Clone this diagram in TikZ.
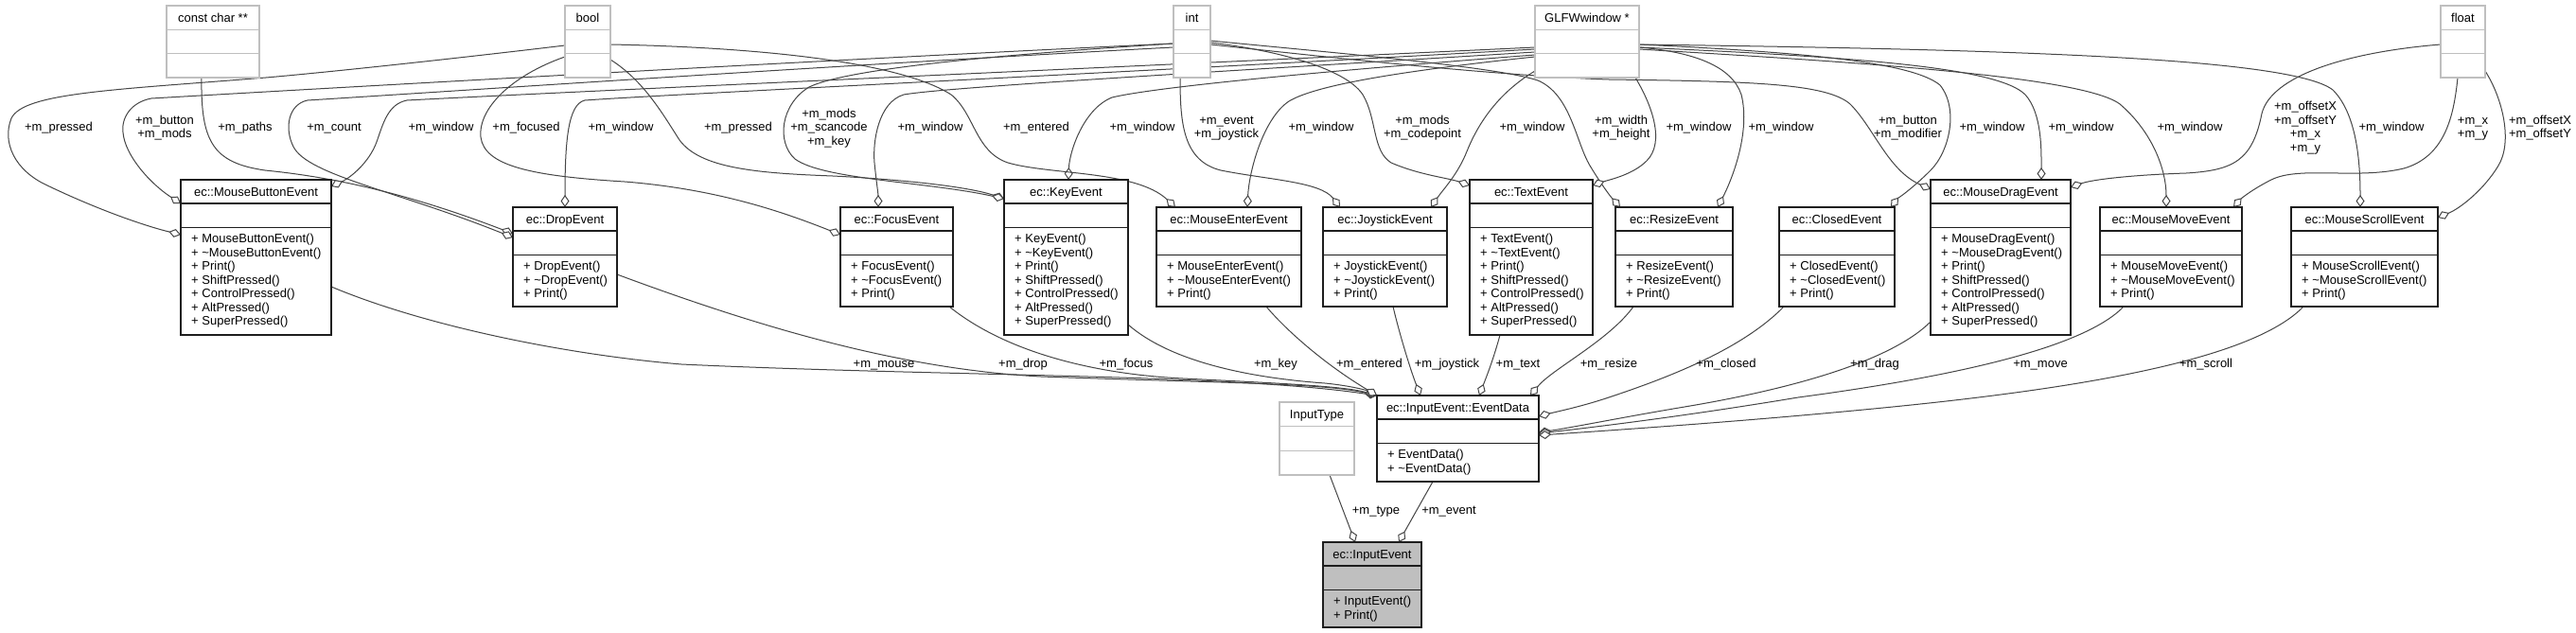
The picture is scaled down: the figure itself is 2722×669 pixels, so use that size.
\documentclass[tikz,border=0pt]{standalone}
\usepackage{fontspec}
\setmainfont{Liberation Sans}
\usetikzlibrary{arrows.meta}
\pgfdeclarelayer{background}
\pgfsetlayers{background,main}
\definecolor{edgecol}{RGB}{70,70,70}
\definecolor{boxcol}{RGB}{30,30,30}
\definecolor{tboxcol}{RGB}{191,191,191}
\definecolor{iefill}{RGB}{191,191,191}
\newcommand\mytilde{\textasciitilde}
\tikzset{
 lbl/.style={font=\fontsize{13}{14.5}\selectfont, inner sep=0pt, text=black},
 cbox/.style={draw=boxcol, fill=white, line width=1.3pt, outer sep=0pt, inner sep=0pt},
 cbox sep/.style={draw=boxcol, line width=1.3pt},
 gbox/.style={draw=boxcol, fill=iefill, line width=1.3pt, outer sep=0pt, inner sep=0pt},
 gbox sep/.style={draw=boxcol, line width=1.3pt},
 tbox/.style={draw=tboxcol, fill=white, line width=1.3pt, outer sep=0pt, inner sep=0pt},
 tbox sep/.style={draw=tboxcol, line width=1.3pt},
 agg/.style={draw=edgecol, line width=1pt, -{Diamond[fill=white, length=13pt, width=9pt]}},
}
% style, name, x1, y1, x2, y2, title, methods
\newcommand\classbox[8]{%
  \node[#1, minimum width={#5-#3}, minimum height={#6-#4}, anchor=north west] (#2) at (#3,#4) {};
  \draw[#1 sep] ([yshift=-25pt]#2.north west) -- ([yshift=-25pt]#2.north east);
  \draw[#1 sep] ([yshift=-50.5pt]#2.north west) -- ([yshift=-50.5pt]#2.north east);
  \node[lbl, anchor=base] (#2-t) at ([yshift=-17.3pt]#2.north) {#7};
  \foreach \m [count=\i from 0] in {#8} {%
    \node[lbl, anchor=base west] (#2-m\i) at ([xshift=11pt, yshift={-66.8pt-14.5pt*\i}]#2.north west) {\m};}
}
% name, x1, y1, x2, y2, title
\newcommand\typebox[6]{%
  \node[tbox, minimum width={#4-#2}, minimum height={#5-#3}, anchor=north west] (#1) at (#2,#3) {};
  \draw[tbox sep] ([yshift={-(#5-#3)/3*1pt}]#1.north west) -- ([yshift={-(#5-#3)/3*1pt}]#1.north east);
  \draw[tbox sep] ([yshift={-(#5-#3)/3*2pt}]#1.north west) -- ([yshift={-(#5-#3)/3*2pt}]#1.north east);
  \node[lbl, anchor=base] (#1-t) at ([yshift={-(#5-#3)/6*1pt-4.7pt}]#1.north) {#6};
}
% name, x, y, text  (y = visual centre of the line)
\newcommand\lab[4]{\node[lbl, anchor=base] (#1) at (#2,{#3+3.6}) {#4};}

\begin{document}
\begin{tikzpicture}[x=1pt,y=-1pt]
\begin{pgfonlayer}{background}
\fill[white] (0,0) rectangle (2722,669);
\end{pgfonlayer}
\useasboundingbox (0,0) rectangle (2722,669);

% ---------- type boxes ----------
\typebox{cc}{176}{6}{274}{82}{const char **}
\typebox{bo}{597}{6}{645}{82}{bool}
\typebox{in}{1240}{6}{1279}{82}{int}
\typebox{gw}{1622}{6}{1732}{82}{GLFWwindow *}
\typebox{fl}{2579}{6}{2626}{82}{float}
\typebox{it}{1352}{425}{1431}{502}{InputType}

% ---------- class boxes ----------
\classbox{cbox}{mbe}{191}{190}{350}{354}{ec::MouseButtonEvent}{+ MouseButtonEvent(), + \mytilde MouseButtonEvent(), + Print(), + ShiftPressed(), + ControlPressed(), + AltPressed(), + SuperPressed()}
\classbox{cbox}{ke}{1061}{190}{1192}{354}{ec::KeyEvent}{+ KeyEvent(), + \mytilde KeyEvent(), + Print(), + ShiftPressed(), + ControlPressed(), + AltPressed(), + SuperPressed()}
\classbox{cbox}{te}{1553}{190}{1683}{354}{ec::TextEvent}{+ TextEvent(), + \mytilde TextEvent(), + Print(), + ShiftPressed(), + ControlPressed(), + AltPressed(), + SuperPressed()}
\classbox{cbox}{md}{2040}{190}{2188}{354}{ec::MouseDragEvent}{+ MouseDragEvent(), + \mytilde MouseDragEvent(), + Print(), + ShiftPressed(), + ControlPressed(), + AltPressed(), + SuperPressed()}
\classbox{cbox}{de}{542}{219}{652}{324}{ec::DropEvent}{+ DropEvent(), + \mytilde DropEvent(), + Print()}
\classbox{cbox}{fe}{888}{219}{1007}{324}{ec::FocusEvent}{+ FocusEvent(), + \mytilde FocusEvent(), + Print()}
\classbox{cbox}{me}{1222}{219}{1375}{324}{ec::MouseEnterEvent}{+ MouseEnterEvent(), + \mytilde MouseEnterEvent(), + Print()}
\classbox{cbox}{je}{1398}{219}{1529}{324}{ec::JoystickEvent}{+ JoystickEvent(), + \mytilde JoystickEvent(), + Print()}
\classbox{cbox}{re}{1707}{219}{1831}{324}{ec::ResizeEvent}{+ ResizeEvent(), + \mytilde ResizeEvent(), + Print()}
\classbox{cbox}{ce}{1880}{219}{2002}{324}{ec::ClosedEvent}{+ ClosedEvent(), + \mytilde ClosedEvent(), + Print()}
\classbox{cbox}{mm}{2219}{219}{2369}{324}{ec::MouseMoveEvent}{+ MouseMoveEvent(), + \mytilde MouseMoveEvent(), + Print()}
\classbox{cbox}{ms}{2421}{219}{2576}{324}{ec::MouseScrollEvent}{+ MouseScrollEvent(), + \mytilde MouseScrollEvent(), + Print()}
\classbox{cbox}{ed}{1455}{418}{1626}{509}{ec::InputEvent::EventData}{+ EventData(), + \mytilde EventData()}
\classbox{gbox}{ie}{1398}{573}{1502}{663}{ec::InputEvent}{+ InputEvent(), + Print()}

% ---------- connectors ----------
\begin{pgfonlayer}{background}
% upper level: member types -> event classes
\draw[agg] (bo.west |- 0,48) .. controls (480,62) and (350,76) .. (281,82) .. controls (120,95) and (25,98) .. (12,125) .. controls (2,150) and (15,180) .. (50,196) .. controls (100,220) and (150,238) .. (mbe.west |- 0,248);
\draw[agg] (in.west |- 0,46) .. controls (900,62) and (400,90) .. (160,104) .. controls (138,108) and (128,125) .. (130,140) .. controls (132,165) and (160,195) .. (mbe.west |- 0,215);
\draw[agg] (cc.south -| 213,0) .. controls (212,150) and (225,172) .. (280,180) .. controls (340,186) and (420,200) .. (de.west |- 0,247);
\draw[agg] (in.west |- 0,50) .. controls (900,68) and (500,95) .. (325,106) .. controls (305,110) and (300,135) .. (310,155) .. controls (325,185) and (420,202) .. (de.west |- 0,251);
\draw[agg] (gw.west |- 0,50) .. controls (1200,70) and (600,97) .. (430,106) .. controls (410,110) and (405,130) .. (398,150) .. controls (390,172) and (370,188) .. (mbe.east |- 0,197);
\draw[agg] (bo.west |- 0,60) .. controls (540,80) and (505,115) .. (508,145) .. controls (512,175) and (560,186) .. (660,192) .. controls (760,200) and (830,225) .. (fe.west |- 0,248);
\draw[agg] (gw.west |- 0,52) .. controls (1200,76) and (700,100) .. (618,106) .. controls (600,110) and (597,150) .. (de.north -| 597,0);
\draw[agg] (bo.east |- 0,63) .. controls (680,85) and (700,120) .. (718,148) .. controls (740,178) and (800,183) .. (880,186) .. controls (960,190) and (1025,198) .. (ke.west |- 0,210);
\draw[agg] (in.west |- 0,46) .. controls (1100,55) and (900,70) .. (855,92) .. controls (825,110) and (820,150) .. (840,168) .. controls (870,190) and (980,192) .. (ke.west |- 0,210);
\draw[agg] (gw.west |- 0,55) .. controls (1300,75) and (1000,92) .. (955,100) .. controls (928,108) and (922,150) .. (924,172) .. controls (926,192) and (928,205) .. (fe.north -| 928,0);
\draw[agg] (gw.west |- 0,58) .. controls (1400,75) and (1220,92) .. (1175,103) .. controls (1145,115) and (1130,160) .. (ke.north -| 1129,0);
\draw[agg] (bo.east |- 0,47) .. controls (800,50) and (950,65) .. (1005,100) .. controls (1030,120) and (1030,160) .. (1065,172) .. controls (1110,185) and (1200,180) .. (me.north -| 1242,0);
\draw[agg] (in.south -| 1247,0) .. controls (1247,130) and (1250,170) .. (1290,180) .. controls (1340,190) and (1395,192) .. (je.north -| 1416,0);
\draw[agg] (gw.west |- 0,60) .. controls (1480,75) and (1390,90) .. (1362,107) .. controls (1335,125) and (1320,180) .. (me.north -| 1318,0);
\draw[agg] (gw.west |- 0,75) .. controls (1580,100) and (1560,135) .. (1550,160) .. controls (1540,185) and (1525,200) .. (je.north -| 1512,0);
\draw[agg] (in.east |- 0,45) .. controls (1340,52) and (1420,70) .. (1440,100) .. controls (1455,125) and (1450,160) .. (1470,172) .. controls (1500,185) and (1530,188) .. (te.west |- 0,196);
\draw[agg] (in.east |- 0,43) .. controls (1400,55) and (1580,70) .. (1625,85) .. controls (1660,100) and (1665,150) .. (1680,175) .. controls (1692,195) and (1702,208) .. (re.north -| 1712,0);
\draw[agg] (gw.south -| 1728,0) .. controls (1745,110) and (1760,150) .. (1740,170) .. controls (1725,185) and (1700,190) .. (te.east |- 0,196);
\draw[agg] (gw.east |- 0,50) .. controls (1790,55) and (1830,70) .. (1840,100) .. controls (1850,140) and (1830,190) .. (re.north -| 1815,0);
\draw[agg] (in.east |- 0,47) .. controls (1400,60) and (1580,80) .. (1700,84) .. controls (1850,86) and (1930,88) .. (1955,110) .. controls (1980,135) and (1995,180) .. (md.west |- 0,200);
\draw[agg] (gw.east |- 0,47) .. controls (1900,55) and (2020,65) .. (2050,90) .. controls (2070,115) and (2060,160) .. (2040,180) .. controls (2020,200) and (2005,210) .. (ce.north -| 1998,0);
\draw[agg] (gw.east |- 0,50) .. controls (1950,60) and (2110,70) .. (2140,100) .. controls (2158,120) and (2157,160) .. (md.north -| 2157,0);
\draw[agg] (gw.east |- 0,52) .. controls (1950,65) and (2200,80) .. (2240,110) .. controls (2275,140) and (2289,180) .. (mm.north -| 2289,0);
\draw[agg] (fl.west |- 0,47) .. controls (2480,55) and (2400,80) .. (2390,120) .. controls (2380,170) and (2360,180) .. (2310,183) .. controls (2250,185) and (2210,190) .. (md.east |- 0,198);
\draw[agg] (gw.east |- 0,47) .. controls (2100,52) and (2420,60) .. (2465,95) .. controls (2490,120) and (2494,170) .. (ms.north -| 2494,0);
\draw[agg] (fl.south -| 2597,0) .. controls (2593,120) and (2585,165) .. (2540,178) .. controls (2490,190) and (2430,175) .. (2400,190) .. controls (2380,200) and (2368,210) .. (mm.north -| 2360,0);
\draw[agg] (fl.east |- 0,75) .. controls (2645,105) and (2655,150) .. (2640,175) .. controls (2625,200) and (2600,220) .. (ms.east |- 0,230);
% lower level: event classes -> EventData
\draw[agg] (mbe.east |- 0,303) .. controls (450,345) and (600,375) .. (720,385) .. controls (1000,398) and (1300,395) .. (ed.north west);
\draw[agg] (de.east |- 0,290) .. controls (800,345) and (950,390) .. (1100,398) .. controls (1300,405) and (1400,405) .. (ed.north west);
\draw[agg] (fe.south -| 1003,0) .. controls (1060,370) and (1150,395) .. (1250,400) .. controls (1350,405) and (1420,408) .. (ed.north west);
\draw[agg] (ke.east |- 0,343) .. controls (1240,385) and (1330,400) .. (1400,405) .. controls (1430,408) and (1445,413) .. (ed.north west);
\draw[agg] (me.south -| 1338,0) .. controls (1360,350) and (1400,385) .. (ed.north west);
\draw[agg] (je.south -| 1472,0) .. controls (1478,350) and (1490,390) .. (ed.north -| 1501,0);
\draw[agg] (te.south -| 1585,0) .. controls (1578,380) and (1570,400) .. (ed.north -| 1563,0);
\draw[agg] (re.south -| 1726,0) .. controls (1700,360) and (1640,390) .. (ed.north -| 1617,0);
\draw[agg] (ce.south -| 1885,0) .. controls (1840,370) and (1760,400) .. (1700,420) .. controls (1670,430) and (1645,435) .. (ed.east |- 0,440);
\draw[agg] (md.west |- 0,340) .. controls (2000,380) and (1900,410) .. (1780,430) .. controls (1720,440) and (1660,452) .. (ed.east |- 0,457);
\draw[agg] (mm.south -| 2244,0) .. controls (2200,370) and (2050,400) .. (1900,420) .. controls (1780,440) and (1680,452) .. (ed.east |- 0,458);
\draw[agg] (ms.south -| 2434,0) .. controls (2380,380) and (2200,410) .. (2000,430) .. controls (1850,445) and (1700,455) .. (ed.east |- 0,460);
% InputEvent members
\draw[agg] (it.south -| 1405,0) -- (ie.north -| 1432,0);
\draw[agg] (ed.south -| 1514,0) -- (ie.north -| 1478,0);
\end{pgfonlayer}

% ---------- connector labels ----------
\lab{l1}{62}{135}{+m\_pressed}
\lab{l2a}{174}{127.7}{+m\_button}
\lab{l2b}{174}{142.3}{+m\_mods}
\lab{l3}{259}{135}{+m\_paths}
\lab{l4}{353}{135}{+m\_count}
\lab{l5}{466}{135}{+m\_window}
\lab{l6}{556}{135}{+m\_focused}
\lab{l7}{656}{135}{+m\_window}
\lab{l8}{780}{135}{+m\_pressed}
\lab{l9a}{876}{120.5}{+m\_mods}
\lab{l9b}{876}{135}{+m\_scancode}
\lab{l9c}{876}{149.5}{+m\_key}
\lab{l10}{983}{135}{+m\_window}
\lab{l11}{1095}{135}{+m\_entered}
\lab{l12}{1207}{135}{+m\_window}
\lab{l13a}{1296}{127.7}{+m\_event}
\lab{l13b}{1296}{142.3}{+m\_joystick}
\lab{l14}{1396}{135}{+m\_window}
\lab{l15a}{1503}{127.7}{+m\_mods}
\lab{l15b}{1503}{142.3}{+m\_codepoint}
\lab{l16}{1619}{135}{+m\_window}
\lab{l17a}{1713}{127.7}{+m\_width}
\lab{l17b}{1713}{142.3}{+m\_height}
\lab{l18}{1795}{135}{+m\_window}
\lab{l19}{1882}{135}{+m\_window}
\lab{l20a}{2016}{127.7}{+m\_button}
\lab{l20b}{2016}{142.3}{+m\_modifier}
\lab{l21}{2105}{135}{+m\_window}
\lab{l22}{2199}{135}{+m\_window}
\lab{l23}{2314}{135}{+m\_window}
\lab{l24a}{2436}{113}{+m\_offsetX}
\lab{l24b}{2436}{127.5}{+m\_offsetY}
\lab{l24c}{2436}{142}{+m\_x}
\lab{l24d}{2436}{156.5}{+m\_y}
\lab{l25}{2527}{135}{+m\_window}
\lab{l26a}{2613}{127.7}{+m\_x}
\lab{l26b}{2613}{142.3}{+m\_y}
\lab{l27a}{2684}{127.7}{+m\_offsetX}
\lab{l27b}{2684}{142.3}{+m\_offsetY}
\lab{b1}{934}{385}{+m\_mouse}
\lab{b2}{1081}{385}{+m\_drop}
\lab{b3}{1190}{385}{+m\_focus}
\lab{b4}{1348}{385}{+m\_key}
\lab{b5}{1447}{385}{+m\_entered}
\lab{b6}{1529}{385}{+m\_joystick}
\lab{b7}{1604}{385}{+m\_text}
\lab{b8}{1700}{385}{+m\_resize}
\lab{b9}{1824}{385}{+m\_closed}
\lab{b10}{1981}{385}{+m\_drag}
\lab{b11}{2156}{385}{+m\_move}
\lab{b12}{2331}{385}{+m\_scroll}
\lab{f1}{1454}{540}{+m\_type}
\lab{f2}{1531}{540}{+m\_event}
\end{tikzpicture}
\end{document}
